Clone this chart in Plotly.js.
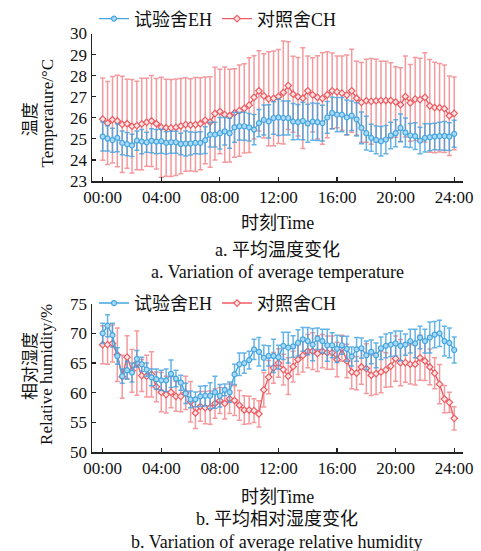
<!DOCTYPE html>
<html>
<head>
<meta charset="utf-8">
<script src="https://cdn.plot.ly/plotly-3.0.1.min.js"></script>
<style>html,body{margin:0;padding:0;background:#fff;}#chart{width:481px;height:551px;}</style>
</head>
<body>
<div id="chart"></div>
<script>
// ---- data ----
const times = [
"00:00","00:20","00:40","01:00","01:20","01:40","02:00","02:20","02:40","03:00","03:20","03:40",
"04:00","04:20","04:40","05:00","05:20","05:40","06:00","06:20","06:40","07:00","07:20","07:40",
"08:00","08:20","08:40","09:00","09:20","09:40","10:00","10:20","10:40","11:00","11:20","11:40",
"12:00","12:20","12:40","13:00","13:20","13:40","14:00","14:20","14:40","15:00","15:20","15:40",
"16:00","16:20","16:40","17:00","17:20","17:40","18:00","18:20","18:40","19:00","19:20","19:40",
"20:00","20:20","20:40","21:00","21:20","21:40","22:00","22:20","22:40","23:00","23:20","23:40",
"24:00"];

const tickVals = [0, 4, 8, 12, 16, 20, 24];
const tickLabels = ["00:00","04:00","08:00","12:00","16:00","20:00","24:00"];

const tempEH = [25.11,25.02,24.94,25.05,24.81,24.75,24.69,24.92,24.87,24.84,24.91,24.87,
24.89,24.81,24.84,24.84,24.76,24.78,24.78,24.81,24.81,24.94,25.2,25.2,
25.27,25.36,25.27,25.55,25.6,25.6,25.55,25.44,25.75,25.9,25.83,25.99,
26.02,25.99,25.99,25.82,25.8,25.85,25.74,25.82,25.8,25.75,26.02,26.23,
26.15,26.15,26.02,26.1,25.93,25.52,25.27,25.05,24.95,24.89,24.97,25.16,
25.27,25.52,25.3,25.16,25.13,24.92,25.05,25.08,25.11,25.13,25.14,25.11,
25.24];
const tempEHErr = [.69,.6,.57,.66,.56,.55,.53,.46,.57,.47,.57,.57,
.57,.53,.52,.52,.51,.59,.55,.51,.53,.63,.59,.59,
.75,.65,.71,.71,.65,.66,.65,.72,.65,.71,.79,.77,
.86,.81,.81,.86,.83,.89,.9,.88,.88,.85,.75,.75,
.81,.81,.82,.7,.79,.75,.8,.64,.66,.7,.67,.63,
.64,.66,.69,.57,.63,.63,.67,.64,.63,.66,.68,.66,
.64];

const tempCH = [25.94,25.75,25.91,25.85,25.69,25.72,25.6,25.63,25.71,25.79,25.85,25.72,
25.55,25.53,25.52,25.55,25.61,25.68,25.66,25.68,25.72,25.88,25.8,26.2,
26.3,26.15,26.1,26.23,26.34,26.45,26.6,26.97,27.28,27.04,26.9,26.92,
27.01,27.2,27.53,27.12,27.0,26.93,27.28,27.09,26.97,26.92,27.09,27.28,
27.23,27.17,27.08,27.28,26.93,26.73,26.81,26.78,26.81,26.82,26.82,26.82,
26.75,26.62,27.01,26.71,26.89,26.86,26.97,26.57,26.49,26.48,26.43,26.1,
26.21];
const tempCHErr = [1.95,1.97,2.05,2.17,2.28,2.11,2.22,2.1,2.17,2.09,2.16,2.15,
2.37,2.3,2.3,2.29,2.26,2.22,2.19,2.23,2.18,2.06,2.15,2.2,
2.0,2.26,2.2,2.1,2.17,2.12,2.25,1.97,1.9,2.0,2.23,2.25,
2.23,2.44,2.08,1.8,1.86,2.39,1.65,1.76,1.97,2.17,2.04,1.8,
1.7,1.76,1.9,1.97,1.76,1.89,1.97,2.04,1.97,1.87,1.87,1.79,
1.67,1.75,1.92,1.82,1.97,1.97,2.12,2.2,2.15,2.1,2.08,1.89,
1.73];

const humEH = [70.0,71.3,69.7,66.2,62.8,63.8,63.4,65.7,64.8,63.9,62.6,62.3,
62.1,62.1,63.2,62.4,61.7,59.9,58.9,58.9,59.4,59.5,59.5,60.1,
59.5,60.5,60.1,63.1,64.8,65.0,65.5,67.3,66.9,65.9,66.2,66.2,
66.0,67.9,67.6,67.8,68.4,69.0,68.7,68.1,69.1,68.7,68.0,68.0,
67.4,68.0,67.4,66.1,67.3,67.5,66.3,66.9,66.3,67.5,67.9,68.1,
68.3,67.9,68.1,68.7,68.3,69.3,68.7,69.3,69.8,70.0,68.7,68.4,
67.2];
const humEHErr = [1.7,1.85,2.0,1.4,1.2,1.5,1.6,1.4,1.2,1.1,1.4,1.7,
1.7,1.9,2.3,1.4,1.25,1.7,1.4,1.25,1.7,1.7,2.2,2.7,
1.9,1.0,1.7,1.7,1.9,1.7,1.5,1.7,2.4,2.1,1.7,2.8,
2.0,2.3,2.6,1.8,2.2,2.0,2.3,2.7,1.8,2.0,2.7,2.1,
2.3,1.5,2.1,1.6,2.0,1.7,2.4,2.0,2.1,1.9,2.0,2.0,
2.1,2.5,1.8,2.0,2.4,1.9,2.0,2.6,2.2,2.2,2.5,2.5,
2.2];

const humCH = [68.1,68.1,68.3,66.4,62.7,66.0,63.7,65.0,62.9,62.8,63.1,61.0,
60.1,59.7,60.1,59.4,59.4,60.0,58.5,56.6,57.7,57.5,57.5,58.2,
58.7,58.2,59.0,58.7,57.9,57.1,57.1,57.0,56.45,60.5,62.65,64.2,
65.0,63.9,62.8,64.4,65.6,66.3,67.0,67.0,66.6,67.0,66.75,66.75,
65.6,67.5,65.35,63.5,63.3,64.35,64.07,62.95,63.23,63.5,63.85,64.5,
65.74,65.07,65.07,64.8,64.8,65.9,65.35,64.35,63.3,61.45,58.94,58.4,
55.7];
const humCHErr = [3.2,3.3,3.1,4.5,3.6,3.6,3.6,5.4,2.7,3.5,3.8,2.5,
3.3,3.1,2.6,2.5,2.6,2.8,3.4,2.6,2.5,2.7,2.8,2.5,
2.2,2.6,2.5,2.5,2.5,2.4,2.3,2.0,2.2,2.9,2.8,2.6,
2.4,2.6,3.1,2.6,2.5,2.8,2.8,3.1,3.0,2.8,2.8,2.8,
2.9,2.2,2.8,2.8,2.8,2.9,4.2,3.4,3.5,3.5,2.9,3.5,
3.8,3.9,3.3,3.3,3.5,3.8,3.3,3.0,2.6,3.3,2.3,1.7,
1.95];

const nameEH = "试验舍EH";
const nameCH = "对照舍CH";

// ---- helpers ----
const hours = times.map(s => parseInt(s.slice(0,2),10) + parseInt(s.slice(3),10)/60);
const FONT = "Liberation Serif, 'Times New Roman', 'Noto Sans CJK SC', serif";
const BLUE = "#45a6e0", RED = "#ee5c63";

function series(y, err, which, xa, ya, lg) {
  const isEH = which === "EH";
  return {
    type: "scatter", mode: "lines+markers",
    x: hours, y: y, xaxis: xa, yaxis: ya, legend: lg,
    name: isEH ? nameEH : nameCH,
    legendrank: isEH ? 1 : 2,
    line: {color: isEH ? BLUE : RED, width: 1.4},
    marker: isEH
      ? {symbol: "circle", size: 5, color: "#a9d9f6", line: {color: BLUE, width: 1.2}}
      : {symbol: "diamond", size: 5, color: "#fde4e4", line: {color: RED, width: 1.2}},
    error_y: {type: "data", array: err, visible: true,
      color: isEH ? "rgba(60,160,225,0.8)" : "rgba(240,110,116,0.7)",
      thickness: 1.5, width: 2.5}
  };
}

const data = [
  series(tempCH, tempCHErr, "CH", "x", "y", "legend"),
  series(tempEH, tempEHErr, "EH", "x", "y", "legend"),
  series(humCH, humCHErr, "CH", "x2", "y2", "legend2"),
  series(humEH, humEHErr, "EH", "x2", "y2", "legend2")
];

const axisCommon = {
  showline: true, linecolor: "#222", linewidth: 1.5, mirror: false,
  showgrid: false, zeroline: false, ticks: "inside", ticklen: 4,
  tickwidth: 1.2, tickcolor: "#222",
  tickfont: {family: FONT, size: 17, color: "#111"}
};
const xDomain = [92/481, 463/481];

const legendCommon = {
  orientation: "h", xanchor: "left", yanchor: "middle",
  font: {family: FONT, size: 18, color: "#111"},
  bgcolor: "rgba(0,0,0,0)", itemwidth: 30, tracegroupgap: 0
};

function ann(text, x, y, extra) {
  return Object.assign({text: text, xref: "paper", yref: "paper", x: x, y: y,
    xanchor: "center", yanchor: "middle", showarrow: false,
    font: {family: FONT, size: 18, color: "#111"}}, extra || {});
}

const H = 551, W = 481;
const yTitleFont = {family: FONT, size: 17, color: "#111"};
const layout = {
  width: W, height: H,
  margin: {l: 0, r: 0, t: 0, b: 0},
  paper_bgcolor: "#fff", plot_bgcolor: "#fff",
  showlegend: true,
  xaxis: Object.assign({}, axisCommon, {domain: xDomain, anchor: "y", range: [-0.73, 24.6],
    tickmode: "array", tickvals: tickVals, ticktext: tickLabels}),
  yaxis: Object.assign({}, axisCommon, {domain: [1-179/H, 1-30.7/H], anchor: "x",
    range: [23, 30], dtick: 1, tick0: 23}),
  xaxis2: Object.assign({}, axisCommon, {domain: xDomain, anchor: "y2", range: [-0.73, 24.6],
    tickmode: "array", tickvals: tickVals, ticktext: tickLabels}),
  yaxis2: Object.assign({}, axisCommon, {domain: [1-451.7/H, 1-302.3/H], anchor: "x2",
    range: [50, 75], dtick: 5, tick0: 50}),
  legend: Object.assign({}, legendCommon, {x: 94/W, y: 1-16/H}),
  legend2: Object.assign({}, legendCommon, {x: 94/W, y: 1-302/H}),
  annotations: [
    ann("温度", 30/W, 1-117/H, {textangle: -90, font: yTitleFont}),
    ann("Temperature/°C", 47/W, 1-111/H, {textangle: -90, font: yTitleFont}),
    ann("时刻Time", 277/W, 1-221/H),
    ann("a. 平均温度变化", 277/W, 1-248/H),
    ann("a. Variation of average temperature", 277/W, 1-270/H),
    ann("相对湿度", 30/W, 1-365/H, {textangle: -90, font: yTitleFont}),
    ann("Relative humidity/%", 47/W, 1-374/H, {textangle: -90, font: yTitleFont}),
    ann("时刻Time", 277/W, 1-497/H),
    ann("b. 平均相对湿度变化", 277/W, 1-519/H),
    ann("b. Variation of average relative humidity", 277/W, 1-542/H)
  ]
};

Plotly.newPlot("chart", data, layout, {staticPlot: true, displayModeBar: false});
</script>
</body>
</html>
